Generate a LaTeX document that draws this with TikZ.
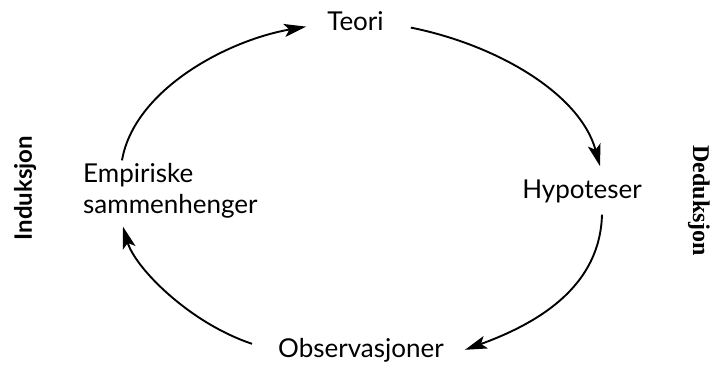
\documentclass[tikz,border=0pt]{standalone}
\usepackage{fontspec}
\setmainfont{Lato}
\newfontfamily\serifbold{Liberation Serif}
\usetikzlibrary{arrows.meta}
\begin{document}
\begin{tikzpicture}[x=1pt,y=-1pt,
  lbl/.style={inner sep=0pt,font=\fontsize{26}{31}\selectfont},
  side/.style={inner sep=0pt,font=\fontsize{24}{28}\selectfont\bfseries},
  arr/.style={line width=1.9pt,-{Stealth[length=22pt,width=13pt,inset=5pt]}}]
\useasboundingbox (0,0) rectangle (713,367);
\node[lbl,anchor=base] (teori) at (355.5,30) {Teori};
\node[lbl,anchor=base] (hyp) at (582,198) {Hypoteser};
\node[lbl,anchor=base] (obs) at (361,357) {Observasjoner};
\node[lbl,anchor=west,align=left] (emp) at (83,191) {Empiriske\\sammenhenger};
\node[side,rotate=90] (ind) at (25,188) {Induksjon};
\node[side,rotate=-90,font=\fontsize{24}{28}\serifbold\bfseries] (ded) at (699,201) {Deduksjon};
\draw[arr] ([xshift=39pt,yshift=3pt]emp.north west) .. controls +(12,-70) and +(-80,14) .. ([xshift=-21pt,yshift=-6pt]teori.west);
\draw[arr] ([xshift=27pt,yshift=-7pt]teori.east) .. controls +(85,17) and +(-20,-73) .. ([xshift=18pt,yshift=13pt]hyp.north);
\draw[arr] ([xshift=20pt,yshift=-12pt]hyp.south) .. controls +(-2,70) and +(77,-28) .. ([xshift=21pt]obs.east);
\draw[arr] ([xshift=-26pt,yshift=6pt]obs.west) .. controls +(-63,-21) and +(12,41) .. ([xshift=40pt,yshift=-8pt]emp.south west);
\end{tikzpicture}
\end{document}
